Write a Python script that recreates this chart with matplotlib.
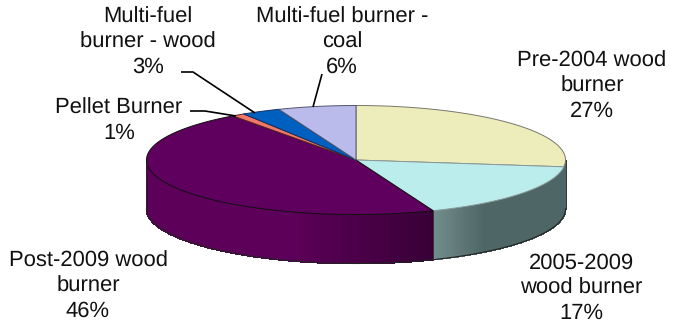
import numpy as np
import matplotlib
matplotlib.use("Agg")
import matplotlib.pyplot as plt
from matplotlib.patches import Polygon

plt.rcParams['font.family'] = ['Liberation Sans', 'DejaVu Sans']
plt.rcParams['text.hinting'] = 'no_hinting'
plt.rcParams['text.hinting_factor'] = 1

# burner types, clockwise from twelve o'clock
names = ['Pre-2004 wood\nburner', '2005-2009\nwood burner', 'Post-2009 wood\nburner',
         'Pellet Burner', 'Multi-fuel\nburner - wood', 'Multi-fuel burner -\ncoal']
shares = [27, 17, 46, 1, 3, 6]

top_colors = ['#EDEDBC', '#BBEDED', '#5F005F', '#F07868', '#0060C0', '#BBBBEB']
edge_colors = ['#77776c', '#8a9a9a', '#111111', '#5a2020', '#10306a', '#55556f']
# side wall colour at the left/right end of each slice's visible wall
wall_left = ['#4F6666', '#728E8C', '#5C0059', '#5C0059', '#5C0059', '#5C0059']
wall_right = ['#4F6666', '#4F6666', '#380036', '#380036', '#380036', '#380036']

label_xy = [(592, 86), (581, 288), (88, 286), (119, 121), (148, 42), (342, 42)]
leaders = {3: [(190, 111), (205, 111), (236, 116)],
           4: [(181, 72), (193, 72), (255, 113)],
           5: [(322, 74), (313, 107)]}

cx, cy = 356, 160
rx, ry = 209.5, 54.5
depth = 49


def rim(theta):
    # theta in degrees clockwise from the top of the disc
    t = np.radians(theta)
    return cx + rx * np.sin(t), cy - ry * np.cos(t)


def hex_mix(a, b, f):
    ca = np.array(matplotlib.colors.to_rgb(a))
    cb = np.array(matplotlib.colors.to_rgb(b))
    return ca + (cb - ca) * f


fig = plt.figure(figsize=(6.73, 3.26), dpi=100)
ax = fig.add_axes([0, 0, 1, 1])
ax.set_xlim(0, 673)
ax.set_ylim(326, 0)
ax.axis('off')

edges = np.concatenate([[0], np.cumsum(shares)]) * 3.6

# side wall first, only the front half of the disc shows
for i in range(len(shares)):
    a0, a1 = max(edges[i], 90), min(edges[i + 1], 270)
    if a1 <= a0:
        continue
    steps = np.linspace(a0, a1, int((a1 - a0) * 2) + 2)
    for s0, s1 in zip(steps[:-1], steps[1:]):
        x0, y0 = rim(s0)
        x1, y1 = rim(s1)
        # shade runs across the wall, the grey part fades fast
        if i == 1:
            f = min(abs(x0 - 433) / 50, 1)
            col = hex_mix(wall_left[i], wall_right[i], f)
        elif i == 2:
            f = np.clip((x0 - 290) / 143, 0, 1)
            col = hex_mix(wall_left[i], wall_right[i], f)
        else:
            col = wall_left[i]
        ax.add_patch(Polygon([(x0, y0), (x1, y1), (x1, y1 + depth), (x0, y0 + depth)],
                             closed=True, facecolor=col, edgecolor=col, linewidth=0.6,
                             antialiased=False))

# outline of the wall
front = np.linspace(90, 270, 200)
fx, fy = rim(front)
ax.plot(fx[[0, 0]], [fy[0], fy[0] + depth], color='#333333', lw=0.7)
ax.plot(fx[[-1, -1]], [fy[-1], fy[-1] + depth], color='#222222', lw=0.7)
ax.plot(fx, fy + depth, color='#222222', lw=0.8)
sx, sy = rim(edges[2])
ax.plot([sx, sx], [sy, sy + depth], color='#333333', lw=0.7)

# top of the disc
for i in range(len(shares)):
    th = np.linspace(edges[i], edges[i + 1], 120)
    x, y = rim(th)
    pts = [(cx, cy)] + list(zip(x, y))
    ax.add_patch(Polygon(pts, closed=True, facecolor=top_colors[i],
                         edgecolor=edge_colors[i], linewidth=0.7, joinstyle='round'))

# leader lines for the small slices
for i, pts in leaders.items():
    p = np.array(pts)
    ax.plot(p[:, 0], p[:, 1], color='black', lw=1.2, solid_capstyle='butt')

# labels
for name, share, (lx, ly) in zip(names, shares, label_xy):
    ax.text(lx, ly, f'{name}\n{share}%', ha='center', va='center',
            fontsize=16.0, linespacing=1.3, color='#111111')

fig.savefig('out.png', dpi=100)
